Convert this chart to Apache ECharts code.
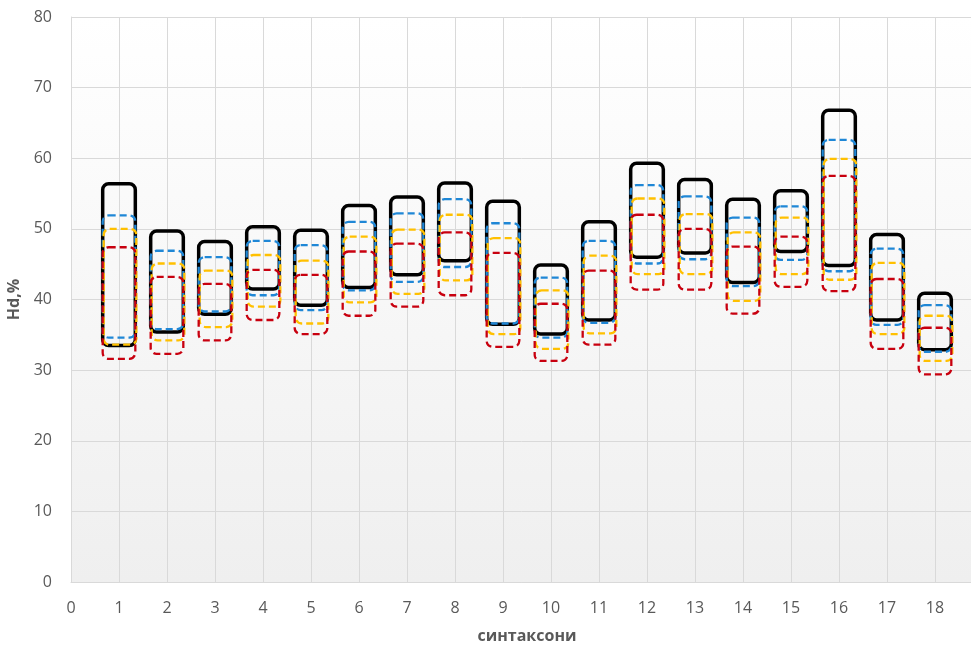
<!DOCTYPE html>
<html>
<head>
<meta charset="utf-8">
<script src="https://cdn.jsdelivr.net/npm/echarts@6/dist/echarts.min.js"></script>
<style>
  html, body { margin: 0; padding: 0; background: #ffffff; }
  #chart { width: 971px; height: 646px; }
</style>
</head>
<body>
<div id="chart"></div>
<script>
// Syntaxa numbers on the x axis
const syntaxa = [1, 2, 3, 4, 5, 6, 7, 8, 9, 10, 11, 12, 13, 14, 15, 16, 17, 18];

// Hd,% ranges (min / max) for each syntaxon, four groups
const blackMin  = [33.5, 35.4, 37.9, 41.5, 39.2, 41.7, 43.5, 45.5, 36.5, 35.1, 37.1, 46.0, 46.6, 42.4, 46.8, 44.8, 37.1, 32.9];
const blackMax  = [56.4, 49.7, 48.2, 50.3, 49.8, 53.3, 54.5, 56.5, 53.9, 44.9, 51.0, 59.3, 57.0, 54.2, 55.4, 66.8, 49.2, 40.9];
const blueMin   = [34.6, 35.8, 38.3, 40.6, 38.5, 41.3, 42.5, 44.6, 36.6, 34.6, 36.7, 45.1, 45.7, 41.9, 45.6, 44.0, 36.4, 32.6];
const blueMax   = [51.9, 46.9, 46.0, 48.3, 47.7, 51.0, 52.2, 54.2, 50.8, 43.1, 48.3, 56.2, 54.6, 51.6, 53.2, 62.6, 47.2, 39.2];
const yellowMin = [33.6, 34.2, 36.1, 39.0, 36.6, 39.6, 40.8, 42.7, 35.1, 33.0, 35.2, 43.6, 43.6, 39.8, 43.6, 42.8, 35.1, 31.3];
const yellowMax = [50.0, 45.1, 44.1, 46.3, 45.5, 48.9, 49.9, 52.0, 48.7, 41.3, 46.2, 54.3, 52.1, 49.5, 51.6, 59.9, 45.2, 37.7];
const redMin    = [31.6, 32.3, 34.2, 37.1, 35.1, 37.7, 39.0, 40.6, 33.3, 31.3, 33.6, 41.4, 41.4, 38.0, 41.8, 41.2, 33.0, 29.4];
const redMax    = [47.4, 43.2, 42.2, 44.2, 43.5, 46.8, 47.9, 49.5, 46.6, 39.4, 44.1, 52.0, 50.0, 47.5, 48.9, 57.5, 42.9, 36.0];

// Tick labels
const xTicks = [0, 1, 2, 3, 4, 5, 6, 7, 8, 9, 10, 11, 12, 13, 14, 15, 16, 17, 18];
const yTicks = [0, 10, 20, 30, 40, 50, 60, 70, 80];

const BOX_WIDTH = 0.68; // box width in x-axis units

function rangeData(mins, maxs) {
  return syntaxa.map((s, i) => [s, mins[i], maxs[i]]);
}

function makeRenderer(stroke, lineWidth, dash, shift) {
  return function (params, api) {
    const x = api.value(0);
    const lo = api.value(1);
    const hi = api.value(2);
    const top = api.coord([x, hi]);
    const bot = api.coord([x, lo]);
    const w = api.size([BOX_WIDTH, 0])[0];
    return {
      type: 'rect',
      shape: { x: top[0] - w / 2 + shift, y: top[1], width: w, height: bot[1] - top[1], r: 6 },
      style: { fill: 'none', stroke: stroke, lineWidth: lineWidth, lineDash: dash }
    };
  };
}

function boxSeries(name, mins, maxs, stroke, lineWidth, dash, shift, z) {
  return {
    type: 'custom',
    name: name,
    data: rangeData(mins, maxs),
    encode: { x: 0, y: [1, 2] },
    renderItem: makeRenderer(stroke, lineWidth, dash, shift),
    clip: false,
    z: z,
    silent: true
  };
}

const chart = echarts.init(document.getElementById('chart'), null, { renderer: 'canvas' });

const gray = '#595959';
const gridGray = '#d9d9d9';

chart.setOption({
  animation: false,
  grid: {
    left: 71, top: 17, right: -12, bottom: 64,
    outerBoundsMode: 'none',
    containLabel: false,
    show: true,
    borderWidth: 0,
    backgroundColor: new echarts.graphic.LinearGradient(0, 0, 0, 1, [
      { offset: 0, color: '#ffffff' },
      { offset: 1, color: '#efefef' }
    ])
  },
  xAxis: {
    type: 'value',
    min: 0, max: 19, interval: 1,
    name: 'синтаксони',
    nameLocation: 'middle',
    nameGap: 46,
    nameTextStyle: { color: gray, fontSize: 16, fontWeight: 'bold', fontFamily: 'Open Sans' },
    axisLine: { show: true, lineStyle: { color: gridGray, width: 1 } },
    axisTick: { show: false },
    axisLabel: {
      color: gray, fontSize: 16, fontFamily: 'Open Sans', margin: 18,
      formatter: v => (xTicks.indexOf(v) >= 0 ? String(v) : '')
    },
    splitLine: { show: true, lineStyle: { color: gridGray, width: 1 } }
  },
  yAxis: {
    type: 'value',
    min: 0, max: 80, interval: 10,
    name: 'Hd,%',
    nameLocation: 'middle',
    nameGap: 34,
    nameTextStyle: { color: gray, fontSize: 16, fontWeight: 'bold', fontFamily: 'Open Sans' },
    axisLine: { show: true, lineStyle: { color: gridGray, width: 1 } },
    axisTick: { show: false },
    axisLabel: {
      color: gray, fontSize: 16, fontFamily: 'Open Sans', margin: 19,
      formatter: v => (yTicks.indexOf(v) >= 0 ? String(v) : '')
    },
    splitLine: { show: true, lineStyle: { color: gridGray, width: 1 } }
  },
  series: [
    boxSeries('A', blackMin, blackMax, '#000000', 3.5, null, 0, 2),
    boxSeries('B', blueMin, blueMax, '#1f87d6', 2.3, [7, 4], 0, 3),
    boxSeries('C', yellowMin, yellowMax, '#ffc000', 2.3, [7, 4], 1, 4),
    boxSeries('D', redMin, redMax, '#c8000f', 2.3, [7, 4], 0, 5)
  ]
});
</script>
</body>
</html>
